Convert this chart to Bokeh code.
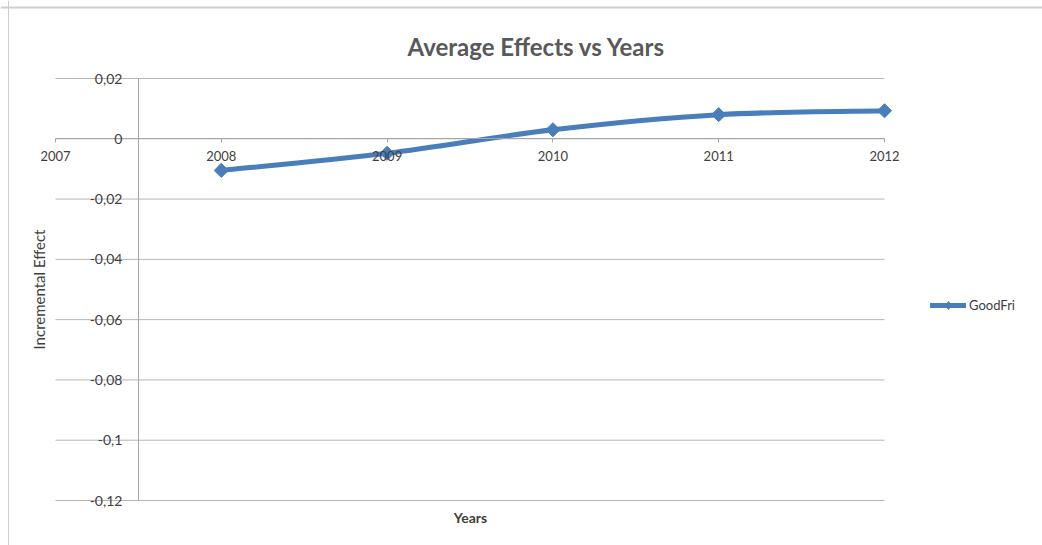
import math
from bokeh.plotting import figure
from bokeh.models import (Range1d, LinearAxis, FixedTicker, Grid, CustomJSTickFormatter,
                          Label, Legend, LegendItem, Span, ColumnDataSource)
from bokeh.embed import file_html
from bokeh.resources import INLINE

# ---- data ----
years = [2008, 2009, 2010, 2011, 2012]
good_fri = [-0.0105, -0.0048, 0.0030, 0.0080, 0.0093]
x_ticks = [2007, 2008, 2009, 2010, 2011, 2012]
y_ticks = [-0.12, -0.10, -0.08, -0.06, -0.04, -0.02, 0.0, 0.02]

BLUE = "#4a7ebb"
AXIS = "#a6a6a6"
GRID = "#b5b5b5"
TXT = "#404040"
FONT = "Lato"

# ---- layout: plot area (in canvas px) and the ranges it maps to ----
W, H = 1042, 545
PL, PR, PT, PB = 55, 884, 78, 500          # plot-area edges in px
X0, X1 = x_ticks[0], x_ticks[-1]
Y0, Y1 = y_ticks[0], y_ticks[-1]
xs = (PR - PL) / (X1 - X0)
ys = (PB - PT) / (Y1 - Y0)
x_range = Range1d(X0 - PL / xs, X1 + (W - PR) / xs)
y_range = Range1d(Y0 - (H - PB) / ys, Y1 + PT / ys)

p = figure(width=W, height=H, x_range=x_range, y_range=y_range,
           x_axis_location=None, y_axis_location=None, toolbar_location=None,
           output_backend="svg", min_border=0)
p.outline_line_color = None
p.background_fill_color = "white"
p.border_fill_color = "white"
for g in list(p.center):
    if isinstance(g, Grid):
        g.visible = False

# horizontal gridlines across the plot area
p.segment(x0=[X0] * len(y_ticks), x1=[X1] * len(y_ticks), y0=y_ticks, y1=y_ticks,
          line_color=GRID, line_width=1)

fmt = CustomJSTickFormatter(code="""
if (Math.abs(tick) < 1e-9) { return "0"; }
return (Math.round(tick * 100) / 100).toString().replace(".", ",");
""")

yaxis = LinearAxis(fixed_location=2007.5, bounds=(Y0, Y1), ticker=FixedTicker(ticks=y_ticks),
                   formatter=fmt,
                   major_tick_in=0, major_tick_out=0, minor_tick_in=0, minor_tick_out=0,
                   major_label_standoff=16, axis_line_color=AXIS, axis_line_width=1,
                   major_label_text_font=FONT, major_label_text_font_size="14px",
                   major_label_text_color=TXT)
p.add_layout(yaxis, "left")

xaxis = LinearAxis(fixed_location=0, bounds=(X0, X1), ticker=FixedTicker(ticks=x_ticks),
                   major_tick_in=0, major_tick_out=4, minor_tick_in=0, minor_tick_out=0,
                   major_tick_line_color=AXIS, major_label_standoff=8,
                   axis_line_color=AXIS, axis_line_width=1,
                   major_label_text_font=FONT, major_label_text_font_size="13px",
                   major_label_text_color=TXT)
p.add_layout(xaxis, "below")

# smoothed line (Catmull-Rom style bezier segments computed from the data)
n = len(years)
segs = dict(x0=[], y0=[], x1=[], y1=[], cx0=[], cy0=[], cx1=[], cy1=[])
for i in range(n - 1):
    a = i - 1 if i > 0 else i
    d = i + 2 if i + 2 < n else i + 1
    segs["x0"].append(years[i]); segs["y0"].append(good_fri[i])
    segs["x1"].append(years[i + 1]); segs["y1"].append(good_fri[i + 1])
    segs["cx0"].append(years[i] + (years[i + 1] - years[a]) / 6)
    segs["cy0"].append(good_fri[i] + (good_fri[i + 1] - good_fri[a]) / 6)
    segs["cx1"].append(years[i + 1] - (years[d] - years[i]) / 6)
    segs["cy1"].append(good_fri[i + 1] - (good_fri[d] - good_fri[i]) / 6)
bez = p.bezier(x0="x0", y0="y0", x1="x1", y1="y1", cx0="cx0", cy0="cy0", cx1="cx1", cy1="cy1",
               source=ColumnDataSource(segs), line_color=BLUE, line_width=5, line_cap="round")

# diamond markers (the smaller "diamond" one supplies the legend swatch)
sc_leg = p.scatter(years, good_fri, marker="diamond", size=11, fill_color=BLUE, line_color=BLUE)
sc = p.scatter(years, good_fri, marker="square", angle=math.pi / 4, size=10,
               fill_color=BLUE, line_color=BLUE)

legend = Legend(items=[LegendItem(label="GoodFri", renderers=[bez, sc_leg])], location=(930, H - 315),
                padding=0, margin=0, spacing=0, glyph_width=36, glyph_height=20,
                label_standoff=3, border_line_color=None, background_fill_alpha=0,
                label_text_font=FONT, label_text_font_size="13px", label_text_color=TXT)
p.add_layout(legend)

p.add_layout(Label(x=536, y=H - 46, x_units="screen", y_units="screen", text="Average Effects vs Years",
                   text_align="center", text_baseline="middle", text_font=FONT,
                   text_font_style="bold", text_font_size="24px", text_color="#595959"))
p.add_layout(Label(x=470, y=H - 517, x_units="screen", y_units="screen", text="Years",
                   text_align="center", text_baseline="middle", text_font=FONT,
                   text_font_style="bold", text_font_size="14px", text_color=TXT))
p.add_layout(Label(x=38, y=H - 289, x_units="screen", y_units="screen", text="Incremental Effect",
                   angle=math.pi / 2, text_align="center", text_baseline="middle", text_font=FONT,
                   text_font_size="15px", text_color=TXT))

p.add_layout(Span(location=H - 7, location_units="screen", dimension="width",
                  line_color="#cfcfcf", line_width=2))
p.add_layout(Span(location=8, location_units="screen", dimension="height",
                  line_color="#cfcfcf", line_width=1))

open("out.html", "w").write(file_html(p, INLINE))
